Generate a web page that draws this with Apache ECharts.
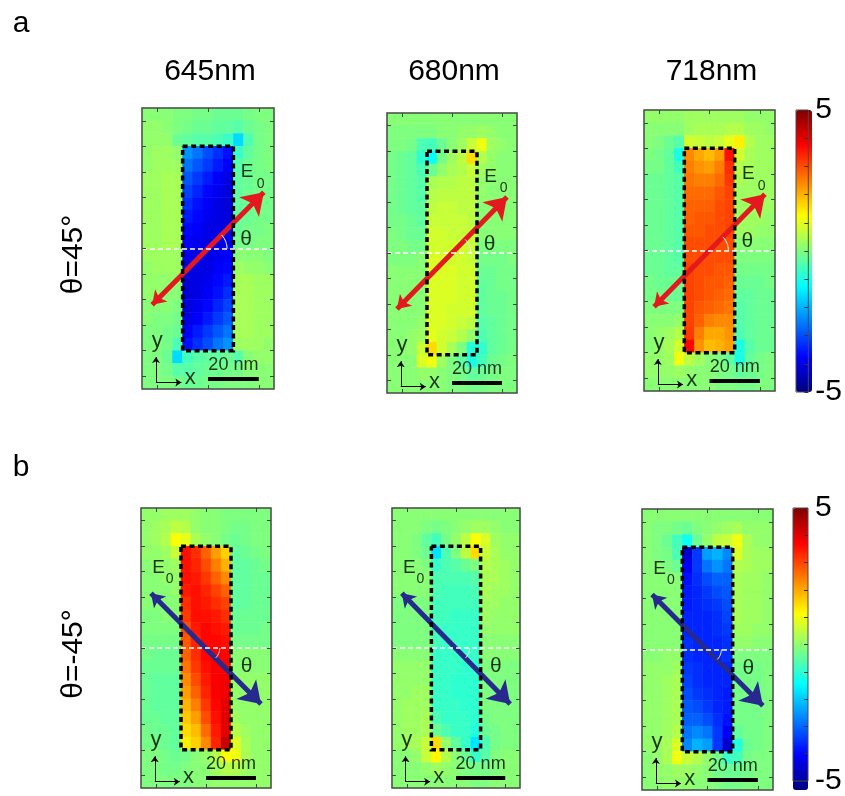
<!DOCTYPE html>
<html><head><meta charset="utf-8">
<script src="https://cdn.jsdelivr.net/npm/echarts@6/dist/echarts.min.js"></script>
<style>html,body{margin:0;padding:0;background:#fff}#c{width:845px;height:796px}</style>
</head><body><div id="c"></div>
<script>
const FONT = '"Liberation Sans", Arial, Helvetica, sans-serif';

// ---- grid of cell centres (nm) ----
const cellX = [-24,-20,-16,-12,-8,-4,0,4,8,12,16,20,24];
const cellY = [52.5,47.5,42.5,37.5,32.5,27.5,22.5,17.5,12.5,7.5,2.5,-2.5,-7.5,-12.5,-17.5,-22.5,-27.5,-32.5,-37.5,-42.5,-47.5,-52.5];
const xRange = [-26, 26];
const yRange = [-55, 55];
const xTicks = [-20, 0, 20];
const yTicks = [-50,-40,-30,-20,-10,0,10,20,30,40,50];
const wavelengths = ['645nm', '680nm', '718nm'];
const rowLabels = ['θ=45°', 'θ=-45°'];
const panelLetters = ['a', 'b'];
const colorbarRange = [-5, 5];
const colorbarLabels = [5, -5];
const rodX = [-10, 10];
const rodY = [-40, 40];
const scaleBarX = [0, 20];
const scaleBarY = -51;
const thetaDeg = [45, -45];
const arrowA = [[-22, -22], [22, 22]];
const arrowB = [[-22, 21.5], [22, -22]];

// ---- field values (rows top -> bottom, columns left -> right) ----
const fieldA645 = [
[0.1,0.1,0.1,0.0,0.0,-0.1,-0.1,-0.2,-0.2,-0.2,-0.1,0.0,0.0],
[0.2,0.2,0.1,0.0,-0.1,-0.2,-0.2,-0.3,-0.3,-0.4,-0.2,-0.1,0.0],
[0.2,0.2,0.2,-0.2,-0.3,-0.4,-0.4,-0.5,-0.7,-1.6,-0.5,-0.1,0.0],
[0.2,0.3,0.3,0.2,-2.3,-2.6,-3.0,-3.3,-3.6,-0.7,-0.3,-0.1,0.0],
[0.2,0.3,0.3,0.3,-2.6,-2.9,-3.2,-3.5,-3.8,-0.4,-0.2,-0.1,0.0],
[0.3,0.3,0.4,0.4,-2.9,-3.2,-3.5,-3.8,-4.0,-0.3,-0.2,-0.1,-0.1],
[0.3,0.3,0.4,0.4,-3.1,-3.4,-3.7,-3.9,-4.1,-0.3,-0.2,-0.1,-0.1],
[0.3,0.3,0.4,0.4,-3.3,-3.6,-3.8,-4.0,-4.1,-0.3,-0.2,-0.1,-0.1],
[0.3,0.3,0.4,0.4,-3.5,-3.7,-3.9,-4.0,-4.1,-0.3,-0.2,-0.1,-0.1],
[0.3,0.3,0.4,0.4,-3.7,-3.8,-4.0,-4.0,-4.0,-0.2,-0.1,-0.1,0.0],
[0.3,0.3,0.4,0.4,-3.8,-3.9,-4.0,-4.0,-3.9,-0.1,-0.1,0.0,0.0],
[0.3,0.3,0.3,0.3,-3.9,-4.0,-4.0,-3.9,-3.8,0.1,0.1,0.1,0.0],
[0.2,0.3,0.3,0.3,-4.0,-4.0,-4.0,-3.8,-3.7,0.3,0.2,0.2,0.1],
[0.2,0.2,0.2,0.2,-4.1,-4.0,-3.9,-3.7,-3.5,0.4,0.4,0.3,0.3],
[0.2,0.2,0.1,0.1,-4.1,-4.0,-3.8,-3.6,-3.3,0.4,0.4,0.3,0.3],
[0.1,0.1,0.1,0.0,-4.1,-3.9,-3.7,-3.4,-3.1,0.4,0.4,0.3,0.3],
[0.1,0.0,0.0,-0.1,-4.0,-3.8,-3.5,-3.2,-2.9,0.4,0.4,0.3,0.3],
[0.0,0.0,-0.1,-0.2,-3.8,-3.5,-3.2,-2.9,-2.6,0.4,0.4,0.3,0.3],
[0.0,0.0,-0.1,-0.5,-3.6,-3.3,-3.0,-2.6,-2.3,0.3,0.3,0.3,0.2],
[0.0,0.0,-0.2,-1.6,-0.6,-0.4,-0.3,-0.3,-0.2,-0.4,0.1,0.2,0.2],
[0.0,0.0,-0.1,-0.4,-0.4,-0.3,-0.2,-0.2,-0.1,-0.1,0.1,0.1,0.1],
[0.0,0.0,0.0,-0.1,-0.2,-0.2,-0.1,-0.1,0.0,0.0,0.0,0.1,0.1]
];
const fieldA680 = [
[0.1,0.1,0.1,0.1,0.1,0.1,0.1,0.1,0.1,0.1,0.1,0.1,0.1],
[0.0,0.0,0.0,0.0,0.0,0.1,0.1,0.2,0.2,0.3,0.2,0.1,0.1],
[0.0,0.0,-0.1,-0.5,-0.6,-0.2,0.1,0.3,0.7,1.1,0.3,0.2,0.1],
[-0.1,-0.2,-0.3,-0.8,-1.2,-0.1,0.3,0.6,1.6,0.5,0.2,0.1,0.1],
[-0.1,-0.2,-0.3,-0.5,-0.2,0.2,0.4,0.5,0.7,0.3,0.2,0.1,0.1],
[-0.1,-0.2,-0.3,-0.4,0.4,0.5,0.5,0.6,0.6,0.2,0.1,0.1,0.1],
[-0.1,-0.2,-0.3,-0.4,0.5,0.6,0.6,0.6,0.6,0.2,0.1,0.1,0.1],
[-0.1,-0.2,-0.3,-0.3,0.6,0.7,0.7,0.6,0.6,0.1,0.1,0.1,0.1],
[-0.1,-0.1,-0.2,-0.3,0.7,0.7,0.7,0.7,0.6,0.1,0.1,0.1,0.1],
[0.0,-0.1,-0.2,-0.2,0.8,0.8,0.7,0.7,0.7,0.1,0.1,0.1,0.1],
[0.0,0.0,-0.1,-0.1,0.8,0.8,0.8,0.8,0.7,0.0,0.0,0.0,0.0],
[0.0,0.0,0.0,0.1,0.9,0.9,0.8,0.8,0.7,-0.1,-0.1,-0.1,0.0],
[0.1,0.1,0.1,0.1,0.9,0.9,0.9,0.8,0.8,-0.2,-0.2,-0.1,-0.1],
[0.1,0.1,0.1,0.1,0.9,0.9,0.9,0.8,0.8,-0.3,-0.2,-0.1,-0.1],
[0.1,0.1,0.1,0.1,0.9,0.9,0.9,0.8,0.8,-0.3,-0.2,-0.2,-0.1],
[0.1,0.1,0.1,0.1,0.9,0.9,0.8,0.8,0.8,-0.3,-0.2,-0.2,-0.1],
[0.1,0.1,0.1,0.2,0.9,0.9,0.8,0.7,0.6,-0.4,-0.3,-0.2,-0.1],
[0.1,0.1,0.2,0.3,1.0,0.8,0.7,0.5,0.2,-0.5,-0.3,-0.2,-0.1],
[0.1,0.1,0.2,0.7,1.6,0.8,0.4,0.0,-0.9,-0.8,-0.3,-0.2,-0.1],
[0.1,0.1,0.1,0.9,1.1,0.3,0.0,-0.3,-1.0,-0.6,-0.2,-0.1,0.0],
[0.1,0.1,0.1,0.2,0.2,0.1,0.0,-0.1,-0.3,-0.2,-0.1,0.0,0.0],
[0.1,0.1,0.1,0.1,0.1,0.1,0.0,0.0,-0.1,-0.1,0.0,0.0,0.0]
];
const fieldA718 = [
[0.2,0.2,0.2,0.2,0.3,0.3,0.3,0.3,0.3,0.3,0.2,0.2,0.2],
[0.1,0.1,0.1,0.1,0.3,0.4,0.4,0.4,0.5,0.5,0.3,0.3,0.2],
[0.1,0.0,-0.2,-0.4,0.8,0.7,0.6,0.7,1.0,1.4,0.5,0.3,0.3],
[0.0,-0.1,-0.3,-1.0,2.4,2.1,1.9,2.2,3.6,0.8,0.4,0.3,0.3],
[-0.1,-0.1,-0.3,-0.6,2.5,2.3,2.2,2.5,3.3,0.5,0.4,0.3,0.3],
[-0.2,-0.2,-0.3,-0.4,2.6,2.5,2.5,2.7,3.2,0.4,0.3,0.3,0.3],
[-0.2,-0.2,-0.3,-0.4,2.7,2.7,2.7,2.9,3.1,0.3,0.3,0.3,0.3],
[-0.2,-0.2,-0.3,-0.4,2.8,2.8,2.8,3.0,3.1,0.3,0.3,0.3,0.3],
[-0.2,-0.2,-0.3,-0.4,2.8,2.9,2.9,3.0,3.1,0.3,0.3,0.3,0.2],
[-0.2,-0.2,-0.3,-0.4,2.9,2.9,3.0,3.0,3.1,0.3,0.3,0.2,0.2],
[-0.2,-0.2,-0.3,-0.4,3.0,3.0,3.0,3.0,3.0,0.1,0.1,0.1,0.1],
[-0.2,-0.2,-0.3,-0.4,3.0,3.0,3.0,3.0,3.0,0.0,0.0,0.0,0.0],
[-0.2,-0.2,-0.3,-0.3,3.1,3.0,3.0,2.9,2.9,-0.1,-0.1,-0.1,-0.1],
[-0.1,-0.2,-0.2,-0.2,3.1,3.0,2.9,2.9,2.8,-0.2,-0.2,-0.2,-0.1],
[-0.1,-0.1,-0.2,-0.2,3.1,3.0,2.9,2.8,2.7,-0.3,-0.3,-0.2,-0.2],
[0.0,0.0,0.0,0.0,3.1,2.9,2.8,2.7,2.6,-0.4,-0.3,-0.2,-0.2],
[0.1,0.1,0.1,0.2,3.1,2.8,2.5,2.4,2.4,-0.4,-0.3,-0.2,-0.2],
[0.1,0.2,0.3,0.5,3.2,2.5,2.1,2.1,2.3,-0.5,-0.3,-0.2,-0.2],
[0.1,0.2,0.4,0.8,3.7,2.3,1.9,2.0,2.2,-1.0,-0.4,-0.2,-0.2],
[0.2,0.2,0.3,1.1,0.6,0.3,0.1,0.0,-0.3,-1.0,-0.3,-0.1,0.0],
[0.2,0.2,0.2,0.3,0.2,0.1,0.1,0.0,-0.1,-0.3,-0.2,-0.1,0.0],
[0.1,0.1,0.1,0.1,0.1,0.1,0.1,0.0,0.0,-0.1,-0.1,0.0,0.0]
];
const fieldB645 = [
[0.2,0.2,0.3,0.3,0.3,0.2,0.1,0.1,0.0,0.0,0.0,0.0,0.0],
[0.2,0.3,0.4,0.6,0.5,0.2,0.1,0.1,0.0,-0.1,-0.1,0.0,0.0],
[0.2,0.3,0.5,1.2,1.0,0.4,0.2,0.1,-0.1,-0.2,-0.1,0.0,0.0],
[0.2,0.2,0.3,0.7,3.6,3.3,2.8,2.2,1.7,-0.3,-0.2,-0.1,0.0],
[0.1,0.2,0.2,0.3,3.6,3.4,3.0,2.5,2.0,-0.3,-0.3,-0.2,-0.1],
[0.1,0.1,0.2,0.2,3.6,3.5,3.2,2.8,2.4,-0.3,-0.3,-0.2,-0.2],
[0.1,0.1,0.1,0.2,3.5,3.6,3.4,3.1,2.8,-0.3,-0.3,-0.2,-0.2],
[0.1,0.1,0.1,0.1,3.3,3.6,3.5,3.3,3.1,-0.3,-0.3,-0.2,-0.2],
[0.0,0.0,0.1,0.1,3.2,3.6,3.6,3.5,3.3,-0.2,-0.2,-0.2,-0.2],
[0.0,0.0,0.0,0.0,3.0,3.5,3.7,3.6,3.5,-0.2,-0.2,-0.2,-0.1],
[-0.1,-0.1,-0.1,-0.1,2.9,3.4,3.7,3.7,3.6,-0.1,-0.1,-0.1,-0.1],
[-0.1,-0.2,-0.2,-0.2,2.8,3.3,3.7,3.8,3.7,0.1,0.1,0.1,0.1],
[-0.2,-0.2,-0.2,-0.2,2.6,3.2,3.6,3.8,3.8,0.1,0.1,0.1,0.1],
[-0.2,-0.3,-0.3,-0.3,2.4,3.0,3.5,3.8,3.9,0.2,0.2,0.2,0.2],
[-0.2,-0.3,-0.3,-0.3,2.2,2.8,3.4,3.8,3.9,0.2,0.2,0.2,0.2],
[-0.2,-0.3,-0.3,-0.3,2.0,2.5,3.2,3.7,4.0,0.2,0.2,0.2,0.2],
[-0.2,-0.2,-0.3,-0.3,1.8,2.2,3.0,3.6,4.0,0.3,0.2,0.2,0.2],
[-0.1,-0.2,-0.2,-0.3,1.6,1.9,2.7,3.5,4.0,0.5,0.3,0.2,0.2],
[-0.1,-0.1,-0.2,-0.3,1.4,1.7,2.4,3.4,4.3,0.9,0.4,0.2,0.2],
[0.0,0.0,-0.1,-0.2,-0.1,0.1,0.2,0.5,1.2,1.1,0.4,0.2,0.2],
[0.0,0.0,-0.1,-0.1,0.0,0.1,0.1,0.3,0.5,0.5,0.3,0.2,0.2],
[0.0,0.0,0.0,0.0,0.0,0.1,0.1,0.2,0.2,0.2,0.2,0.2,0.2]
];
const fieldB680 = [
[0.1,0.1,0.1,0.1,0.1,0.1,0.1,0.1,0.1,0.1,0.1,0.1,0.1],
[0.1,0.1,0.1,0.0,-0.1,0.0,0.1,0.2,0.3,0.3,0.2,0.1,0.1],
[0.1,0.1,0.0,-0.3,-0.6,-0.1,0.2,0.6,1.2,0.9,0.3,0.2,0.2],
[0.1,0.1,0.0,-0.2,-1.5,-0.5,0.0,0.6,1.6,0.7,0.4,0.2,0.2],
[0.1,0.1,0.1,0.0,-0.7,-0.5,-0.4,-0.2,0.0,0.5,0.4,0.3,0.2],
[0.1,0.1,0.1,0.1,-0.5,-0.5,-0.5,-0.5,-0.4,0.4,0.4,0.3,0.2],
[0.1,0.1,0.1,0.1,-0.5,-0.6,-0.6,-0.6,-0.5,0.4,0.3,0.3,0.2],
[0.0,0.0,0.0,0.0,-0.6,-0.6,-0.6,-0.6,-0.6,0.3,0.3,0.2,0.2],
[0.0,0.0,0.0,0.0,-0.6,-0.6,-0.7,-0.7,-0.7,0.3,0.2,0.2,0.2],
[0.0,0.0,0.0,0.0,-0.6,-0.7,-0.7,-0.7,-0.7,0.2,0.2,0.2,0.2],
[0.0,0.0,0.0,0.0,-0.6,-0.7,-0.7,-0.7,-0.7,0.1,0.1,0.1,0.1],
[0.1,0.1,0.1,0.1,-0.7,-0.7,-0.7,-0.7,-0.7,0.1,0.1,0.1,0.1],
[0.2,0.2,0.2,0.2,-0.7,-0.7,-0.7,-0.8,-0.8,0.0,0.0,0.0,0.0],
[0.2,0.2,0.2,0.2,-0.7,-0.7,-0.8,-0.8,-0.8,0.0,0.0,0.0,0.0],
[0.2,0.2,0.3,0.3,-0.7,-0.7,-0.8,-0.8,-0.8,0.0,0.0,0.0,0.0],
[0.2,0.3,0.3,0.3,-0.7,-0.7,-0.7,-0.8,-0.8,0.0,0.0,0.0,0.0],
[0.2,0.3,0.3,0.4,-0.5,-0.7,-0.7,-0.7,-0.8,-0.1,0.0,0.0,0.0],
[0.2,0.3,0.3,0.4,-0.2,-0.5,-0.7,-0.7,-0.9,-0.2,-0.1,0.0,0.0],
[0.2,0.3,0.4,0.7,1.6,0.2,-0.3,-0.7,-1.5,-0.5,-0.1,0.0,0.0],
[0.1,0.1,0.2,0.7,1.3,0.5,0.1,-0.2,-0.7,-0.4,0.0,0.1,0.1],
[0.1,0.1,0.1,0.2,0.3,0.2,0.1,0.0,-0.1,-0.1,0.0,0.1,0.1],
[0.1,0.1,0.1,0.1,0.1,0.1,0.1,0.1,0.0,0.0,0.1,0.1,0.1]
];
const fieldB718 = [
[0.1,0.1,0.1,0.1,0.1,0.1,0.1,0.1,0.1,0.1,0.1,0.1,0.1],
[0.1,0.0,0.0,-0.1,-0.2,0.0,0.1,0.2,0.3,0.4,0.2,0.2,0.2],
[0.1,0.0,-0.2,-0.6,-1.1,-0.2,0.2,0.6,0.7,1.1,0.4,0.2,0.2],
[0.1,0.0,-0.1,-0.5,-4.2,-3.2,-2.2,-2.0,-2.4,0.9,0.4,0.3,0.3],
[0.1,0.1,0.0,-0.2,-3.8,-3.2,-2.6,-2.3,-2.6,0.5,0.4,0.3,0.3],
[0.1,0.1,0.1,0.1,-3.6,-3.3,-3.0,-2.8,-2.8,0.4,0.3,0.3,0.2],
[0.1,0.1,0.1,0.1,-3.5,-3.4,-3.2,-3.0,-2.9,0.4,0.3,0.3,0.2],
[0.1,0.1,0.1,0.1,-3.5,-3.4,-3.3,-3.2,-3.0,0.4,0.3,0.3,0.2],
[0.1,0.1,0.1,0.1,-3.4,-3.4,-3.4,-3.3,-3.1,0.4,0.3,0.3,0.2],
[0.1,0.1,0.1,0.1,-3.4,-3.4,-3.4,-3.3,-3.2,0.3,0.3,0.2,0.2],
[0.1,0.1,0.1,0.1,-3.3,-3.4,-3.4,-3.4,-3.3,0.2,0.2,0.1,0.1],
[0.1,0.1,0.2,0.2,-3.3,-3.4,-3.4,-3.4,-3.3,0.0,0.0,0.0,0.0],
[0.2,0.2,0.2,0.3,-3.2,-3.3,-3.4,-3.4,-3.4,-0.1,-0.1,-0.1,0.0],
[0.2,0.2,0.3,0.4,-3.1,-3.3,-3.4,-3.4,-3.4,-0.1,-0.1,-0.1,0.0],
[0.2,0.2,0.3,0.4,-3.0,-3.2,-3.3,-3.4,-3.5,-0.1,-0.1,-0.1,0.0],
[0.2,0.2,0.3,0.4,-2.9,-3.0,-3.2,-3.4,-3.5,-0.1,-0.1,-0.1,0.0],
[0.2,0.2,0.3,0.4,-2.8,-2.8,-3.0,-3.3,-3.6,-0.1,-0.1,-0.1,0.0],
[0.2,0.2,0.3,0.5,-2.6,-2.4,-2.6,-3.2,-3.8,-0.3,-0.1,-0.1,0.0],
[0.2,0.2,0.4,0.9,-2.4,-2.0,-2.2,-3.2,-4.2,-0.9,-0.2,-0.1,0.0],
[0.1,0.2,0.4,1.1,0.7,0.5,0.2,-0.1,-0.7,-0.6,-0.1,0.0,0.0],
[0.1,0.2,0.2,0.3,0.3,0.2,0.1,-0.1,-0.2,-0.2,-0.1,0.0,0.0],
[0.1,0.1,0.2,0.2,0.2,0.1,0.1,0.0,-0.1,-0.1,0.0,0.0,0.0]
];

// ---- in-panel annotation text (data coords, per row) ----
const panelTexts = [
  [ {t:'E', p:[15.4, 30.1], s:19}, {t:'0', p:[20.7, 25.3], s:14}, {t:'θ', p:[15, 3.5], s:21},
    {t:'y', p:[-20, -36], s:22}, {t:'x', p:[-7, -50.5], s:22}, {t:'20 nm', p:[10, -45.5], s:18} ],
  [ {t:'E', p:[-19, 31.5], s:19}, {t:'0', p:[-14.5, 27], s:14}, {t:'θ', p:[16.2, -7.2], s:21},
    {t:'y', p:[-20, -36], s:22}, {t:'x', p:[-7, -50.5], s:22}, {t:'20 nm', p:[10, -45.5], s:18} ]
];
const axisIndicatorOrigin = [-20.5, -52.5];
const axisIndicatorLen = 10;

// ---- layout ----
const panels = [
  {field: fieldA645, row:0, left:142, top:108, width:132, height:281},
  {field: fieldA680, row:0, left:387, top:113, width:130, height:280},
  {field: fieldA718, row:0, left:644, top:110, width:131, height:281},
  {field: fieldB645, row:1, left:141, top:508, width:130, height:280},
  {field: fieldB680, row:1, left:392, top:508, width:128, height:280},
  {field: fieldB718, row:1, left:642, top:509, width:131, height:281}
];
const colorbars = [
  {left:796, top:110, width:16, height:282},
  {left:793, top:508, width:15, height:282}
];
const arrows = [arrowA, arrowB];
const arrowColors = ['#e3191f', '#272a8c'];
const arcRadius = [7.5, 5.5];
const jet = ['#00007f','#0000ff','#007fff','#00ffff','#7fff7f','#ffff00','#ff7f00','#ff0000','#7f0000'];

const chart = echarts.init(document.getElementById('c'), null, {renderer:'canvas', width:845, height:796});
const grid = [], xAxis = [], yAxis = [], series = [];
const heatIdx = [[], []];

function frameAxis(g, pos, range, ticks, split) {
  return {
    gridIndex: g, type: 'value', min: range[0], max: range[1], position: pos, z: 10,
    splitNumber: split,
    axisLine: {show: false, onZero: false}, splitLine: {show: false}, axisLabel: {show: false},
    axisTick: {show: true, inside: true, length: 4, customValues: ticks, lineStyle: {color: '#444', width: 1}}
  };
}

panels.forEach((p) => {
  const box = {left: p.left, top: p.top, width: p.width, height: p.height};
  const gH = grid.length; grid.push(Object.assign({show: false}, box));
  const gO = grid.length; grid.push(Object.assign({show: true, borderColor: '#4a4a4a', borderWidth: 1.5, backgroundColor: 'transparent', z: 10}, box));
  const xh = xAxis.length; xAxis.push({gridIndex: gH, type: 'category', data: cellX, show: false});
  const yh = yAxis.length; yAxis.push({gridIndex: gH, type: 'category', data: cellY, inverse: true, show: false});
  const xo = xAxis.length;
  xAxis.push(frameAxis(gO, 'bottom', xRange, xTicks, 3), frameAxis(gO, 'top', xRange, xTicks, 3));
  const yo = yAxis.length;
  yAxis.push(frameAxis(gO, 'left', yRange, yTicks, 11), frameAxis(gO, 'right', yRange, yTicks, 11));

  const data = [];
  p.field.forEach((rowVals, r) => rowVals.forEach((v, c) => data.push([c, r, v])));
  heatIdx[p.row].push(series.length);
  series.push({type: 'heatmap', xAxisIndex: xh, yAxisIndex: yh, data: data, z: 2, silent: true,
    emphasis: {disabled: true}, itemStyle: {borderWidth: 0}});

  const ov = {coordinateSystem: 'cartesian2d', xAxisIndex: xo, yAxisIndex: yo, silent: true, animation: false};
  // arrow (E0 polarisation)
  series.push(Object.assign({type: 'lines', z: 5, symbol: ['arrow', 'arrow'], symbolSize: [13, 21],
    lineStyle: {color: arrowColors[p.row], width: 5, opacity: 1},
    data: [{coords: arrows[p.row]}]}, ov));
  // dashed rod outline
  series.push(Object.assign({type: 'lines', z: 6, polyline: true,
    lineStyle: {color: '#000', width: 3.5, type: [5, 3.5], opacity: 1},
    data: [{coords: [[rodX[0], rodY[1]], [rodX[1], rodY[1]], [rodX[1], rodY[0]], [rodX[0], rodY[0]], [rodX[0], rodY[1]]]}]}, ov));
  // white dashed reference line
  series.push(Object.assign({type: 'lines', z: 7,
    lineStyle: {color: '#fff', width: 1.5, type: [5, 3], opacity: 1},
    data: [{coords: [[xRange[0], 0], [xRange[1], 0]]}]}, ov));
  // theta arc
  const arc = [];
  for (let k = 0; k <= 12; k++) {
    const a = thetaDeg[p.row] * k / 12 * Math.PI / 180;
    arc.push([arcRadius[p.row] * Math.cos(a), arcRadius[p.row] * Math.sin(a)]);
  }
  series.push(Object.assign({type: 'lines', z: 7, polyline: true,
    lineStyle: {color: '#fff', width: 1, opacity: 1}, data: [{coords: arc}]}, ov));
  // scale bar
  series.push(Object.assign({type: 'lines', z: 7,
    lineStyle: {color: '#000', width: 4, opacity: 1, cap: 'butt'},
    data: [{coords: [[scaleBarX[0], scaleBarY], [scaleBarX[1], scaleBarY]]}]}, ov));
  // x / y direction indicator
  const o = axisIndicatorOrigin;
  series.push(Object.assign({type: 'lines', z: 7, symbol: ['none', 'arrow'], symbolSize: [4, 6],
    lineStyle: {color: '#000', width: 1, opacity: 1},
    data: [{coords: [o, [o[0], o[1] + axisIndicatorLen]]}, {coords: [o, [o[0] + axisIndicatorLen, o[1]]]}]}, ov));
  // text annotations
  series.push(Object.assign({type: 'scatter', z: 8, symbolSize: 1, itemStyle: {color: 'transparent'},
    label: {show: true, position: 'inside', color: '#000', fontFamily: FONT},
    emphasis: {disabled: true},
    data: panelTexts[p.row].map(d => ({value: d.p, label: {formatter: d.t, fontSize: d.s}}))}, ov));
});

// colorbars (tick frame)
colorbars.forEach((cb) => {
  const g = grid.length;
  grid.push({left: cb.left, top: cb.top, width: cb.width, height: cb.height, show: true, borderColor: '#4a4a4a', borderWidth: 1, z: 10});
  xAxis.push({gridIndex: g, type: 'value', min: 0, max: 1, show: false});
  yAxis.push({gridIndex: g, type: 'value', min: colorbarRange[0], max: colorbarRange[1], interval: 1, position: 'right', z: 10,
    axisLine: {show: false, onZero: false}, splitLine: {show: false},
    axisTick: {show: true, inside: true, length: 4, lineStyle: {color: '#333', width: 1}},
    axisLabel: {show: true, margin: 7, fontSize: 30, color: '#000', fontFamily: FONT,
      formatter: v => colorbarLabels.includes(v) ? String(v) : ''}});
});

const graphic = [];
wavelengths.forEach((w, i) => {
  const p = panels[i];
  graphic.push({type: 'text', x: p.left + p.width / 2 + 2, y: 72, style: {text: w, fontSize: 30, fontFamily: FONT, fill: '#000', align: 'center', verticalAlign: 'middle'}});
});
rowLabels.forEach((t, r) => {
  const p = panels[r * 3];
  graphic.push({type: 'text', x: 74, y: p.top + p.height / 2 + 6, rotation: Math.PI / 2,
    style: {text: t, fontSize: 30, fontFamily: FONT, fill: '#000', align: 'center', verticalAlign: 'middle'}});
});
panelLetters.forEach((t, r) => {
  graphic.push({type: 'text', x: 21, y: r === 0 ? 24 : 468, style: {text: t, fontSize: 30, fontFamily: FONT, fill: '#000', align: 'center', verticalAlign: 'middle'}});
});

chart.setOption({
  animation: false,
  backgroundColor: '#fff',
  grid: grid, xAxis: xAxis, yAxis: yAxis,
  visualMap: colorbars.map((cb, r) => ({
    type: 'continuous', min: colorbarRange[0], max: colorbarRange[1], seriesIndex: heatIdx[r],
    left: cb.left, top: cb.top, itemWidth: cb.width, itemHeight: cb.height, padding: 0,
    calculable: false, hoverLink: false, realtime: false, orient: 'vertical',
    inRange: {color: jet}
  })),
  series: series,
  graphic: graphic
});
</script>
</body></html>
